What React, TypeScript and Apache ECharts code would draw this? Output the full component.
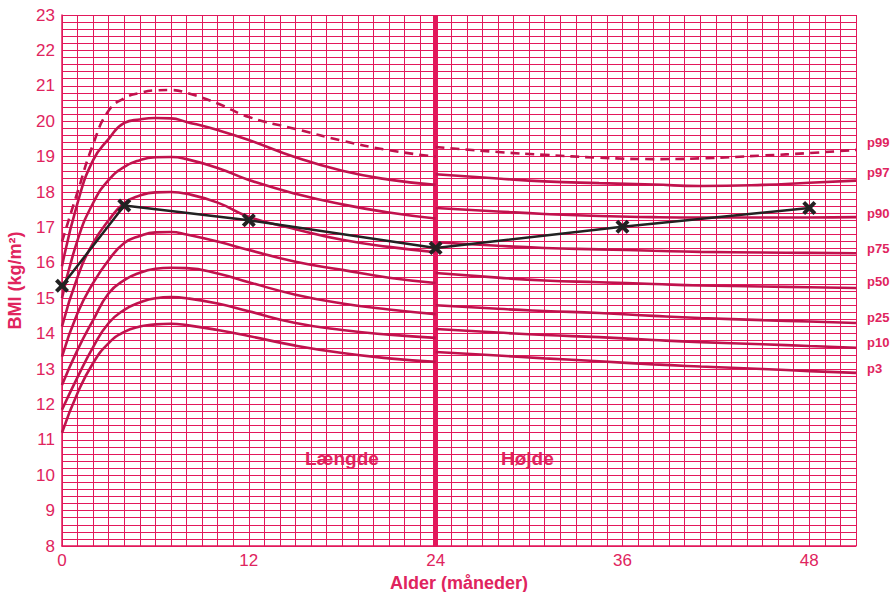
import React, { useEffect, useRef } from "react";
import * as echarts from "echarts";

// Age (months) for the length part (0-24) and the height part (24-51)
const ageLength = [0, 1, 2, 3, 4, 5, 6, 7, 8, 10, 12, 15, 18, 21, 24];
const ageHeight = [24, 28, 31, 34.5, 38, 41, 45, 48, 51];

// Percentile BMI values, length part
const p3L = [11.2, 12.32, 13.17, 13.73, 14.05, 14.2, 14.26, 14.28, 14.24, 14.1, 13.93, 13.66, 13.45, 13.3, 13.2];
const p10L = [11.85, 12.77, 13.62, 14.3, 14.67, 14.88, 15.0, 15.03, 15.0, 14.85, 14.63, 14.3, 14.1, 13.97, 13.88];
const p25L = [12.55, 13.54, 14.38, 15.14, 15.51, 15.72, 15.83, 15.86, 15.85, 15.7, 15.45, 15.1, 14.85, 14.68, 14.55];
const p50L = [13.35, 14.58, 15.43, 16.08, 16.56, 16.76, 16.86, 16.87, 16.8, 16.6, 16.36, 16.03, 15.8, 15.58, 15.43];
const p75L = [14.2, 15.6, 16.56, 17.2, 17.69, 17.9, 17.99, 18.0, 17.95, 17.7, 17.3, 16.95, 16.65, 16.45, 16.3];
const p90L = [15.0, 16.64, 17.69, 18.34, 18.71, 18.9, 18.98, 18.99, 18.93, 18.68, 18.34, 17.95, 17.65, 17.42, 17.25];
const p97L = [15.9, 17.69, 18.9, 19.5, 19.95, 20.05, 20.09, 20.08, 19.98, 19.75, 19.47, 18.98, 18.6, 18.35, 18.2];
const p99L = [16.6, 18.0, 19.35, 20.3, 20.65, 20.8, 20.87, 20.88, 20.8, 20.5, 20.12, 19.78, 19.45, 19.18, 19.0];

// Percentile BMI values, height part
const p3H = [13.48, 13.38, 13.3, 13.22, 13.13, 13.07, 13.0, 12.94, 12.89];
const p10H = [14.13, 14.03, 13.96, 13.9, 13.82, 13.76, 13.7, 13.65, 13.6];
const p25H = [14.8, 14.7, 14.64, 14.58, 14.5, 14.44, 14.38, 14.34, 14.3];
const p50H = [15.71, 15.58, 15.5, 15.45, 15.4, 15.36, 15.33, 15.31, 15.29];
const p75H = [16.58, 16.48, 16.42, 16.38, 16.34, 16.31, 16.29, 16.28, 16.27];
const p90H = [17.55, 17.45, 17.38, 17.32, 17.29, 17.28, 17.28, 17.28, 17.29];
const p97H = [18.5, 18.38, 18.3, 18.25, 18.21, 18.17, 18.2, 18.26, 18.32];
const p99H = [19.27, 19.13, 19.05, 18.97, 18.93, 18.95, 19.03, 19.1, 19.19];

const percentileNames = ["p3", "p10", "p25", "p50", "p75", "p90", "p97", "p99"];
const lengthValues = [p3L, p10L, p25L, p50L, p75L, p90L, p97L, p99L];
const heightValues = [p3H, p10H, p25H, p50H, p75H, p90H, p97H, p99H];
const labelOffsetY = [-4, -5, -5, -6, -5, -4, -8, -7];

// Child's measurements
const childAge = [0, 4, 12, 24, 36, 48];
const childBmi = [15.35, 17.62, 17.2, 16.42, 17.02, 17.55];

const GRID = "#e2185b";
const CURVE = "#c0124d";
const TEXT = "#e0245e";
const FONT = "'Liberation Sans', Arial, sans-serif";

export default function App() {
  const ref = useRef<HTMLDivElement>(null);
  useEffect(() => {
    document.body.style.margin = "0";
    const chart = echarts.init(ref.current!, null, { renderer: "svg" });

    const curveSeries = percentileNames.map((name, i) => {
      const data: any[] = ageLength.map((a, j) => [a, lengthValues[i][j]]);
      data.push([24, "-"]);
      ageHeight.forEach((a, j) => data.push([a, heightValues[i][j]]));
      return {
        name,
        type: "line",
        data,
        showSymbol: false,
        symbol: "none",
        smooth: 0.5,
        connectNulls: false,
        lineStyle: {
          color: CURVE,
          width: 2.6,
          type: name === "p99" ? [9, 6] : "solid",
        },
        endLabel: {
          show: true,
          formatter: name,
          color: TEXT,
          fontWeight: "bold",
          fontSize: 13,
          fontFamily: FONT,
          offset: [3, labelOffsetY[i]],
        },
        silent: true,
        z: 3,
      };
    });

    const xSymbol =
      "path://M2,0 L5,3 L8,0 L10,2 L7,5 L10,8 L8,10 L5,7 L2,10 L0,8 L3,5 L0,2 Z";

    chart.setOption({
      animation: false,
      grid: { left: 62, right: 38, top: 15, bottom: 46, outerBoundsMode: "none", containLabel: false },
      xAxis: {
        type: "value",
        min: 0,
        max: 51,
        interval: 1,
        name: "Alder (måneder)",
        nameLocation: "middle",
        nameGap: 26,
        nameTextStyle: {
          color: TEXT,
          fontWeight: "bold",
          fontSize: 18,
          fontFamily: FONT,
        },
        axisLine: { show: true, lineStyle: { color: GRID, width: 1.5 } },
        axisTick: { show: false },
        axisLabel: {
          color: TEXT,
          fontSize: 17,
          fontFamily: FONT,
          margin: 6,
          showMaxLabel: false,
          formatter: (v: number) => (v % 12 === 0 ? String(v) : ""),
        },
        splitLine: { show: true, lineStyle: { color: GRID, width: 1 } },
      },
      yAxis: {
        type: "value",
        min: 8,
        max: 23,
        interval: 0.2,
        name: "BMI (kg/m²)",
        nameLocation: "middle",
        nameGap: 38,
        nameRotate: 90,
        nameTextStyle: {
          color: TEXT,
          fontWeight: "bold",
          fontSize: 18,
          fontFamily: FONT,
        },
        axisLine: { show: true, lineStyle: { color: GRID, width: 1.5 } },
        axisTick: { show: false },
        axisLabel: {
          color: TEXT,
          fontSize: 17,
          fontFamily: FONT,
          margin: 7,
          formatter: (v: number) =>
            Math.abs(v - Math.round(v)) < 1e-6 ? String(Math.round(v)) : "",
        },
        splitLine: { show: true, lineStyle: { color: GRID, width: 1 } },
      },
      graphic: [
        {
          type: "text",
          left: 305,
          top: 449,
          style: {
            text: "Længde",
            fill: TEXT,
            font: `bold 19px ${FONT}`,
          },
        },
        {
          type: "text",
          left: 501,
          top: 449,
          style: {
            text: "Højde",
            fill: TEXT,
            font: `bold 19px ${FONT}`,
          },
        },
      ],
      series: [
        ...curveSeries,
        {
          name: "Barn",
          type: "line",
          data: childAge.map((a, i) => [a, childBmi[i]]),
          symbol: xSymbol,
          symbolSize: 14,
          showSymbol: true,
          itemStyle: { color: "#222222" },
          lineStyle: { color: "#222222", width: 2.5 },
          z: 5,
          markLine: {
            silent: true,
            symbol: "none",
            label: { show: false },
            lineStyle: { color: GRID, width: 5, type: "solid" },
            data: [{ xAxis: 24 }],
            z: 2,
          },
        },
      ],
    });
    return () => chart.dispose();
  }, []);
  return <div ref={ref} style={{ width: 894, height: 592 }} />;
}
